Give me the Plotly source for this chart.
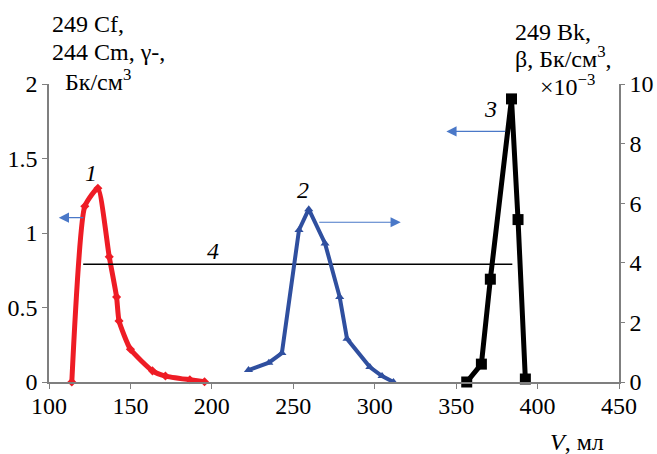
import plotly.graph_objects as go

# ---- data ----
v1 = [114, 122, 130, 137, 141.5, 143, 150, 163.5, 171.5, 186.5, 195.5]
a1 = [0, 1.18, 1.30, 0.84, 0.57, 0.41, 0.22, 0.075, 0.04, 0.015, 0.002]

v2 = [222.5, 235, 243, 253.5, 259.5, 269.5, 278.5, 283, 297, 304.5, 311.5]
a2 = [0.4, 0.65, 0.97, 5.1, 5.8, 4.65, 2.85, 1.45, 0.5, 0.2, 0]

v3 = [356.5, 365.5, 371, 384, 388, 392.5]
a3 = [0, 0.12, 0.69, 1.90, 1.09, 0.02]

v4 = [121, 384.5]
a4 = [0.79, 0.79]

x_ticks = [100, 150, 200, 250, 300, 350, 400, 450]
y_left_ticks = [0, 0.5, 1, 1.5, 2]
y_right_ticks = [0, 2, 4, 6, 8, 10]

W, H = 657, 454
L, R, T, B = 49, 38, 84, 72
PW, PH = W - L - R, H - T - B
FONT = "Liberation Serif, DejaVu Serif, serif"
FS = 24
AXC = "#7f7f7f"
ARROWC = "#4a78c8"

def px(xp):
    return (xp - L) / PW

def py(yp):
    return (H - B - yp) / PH

fig = go.Figure()
fig.add_trace(go.Scatter(x=v1, y=a1, mode="lines+markers", line=dict(color="#ee1c25", width=5, shape="spline", smoothing=0.5),
                         marker=dict(symbol="diamond", size=7, color="#ee1c25"), cliponaxis=False, showlegend=False))
fig.add_trace(go.Scatter(x=v2, y=a2, mode="lines+markers", yaxis="y2", line=dict(color="#2f4f9f", width=4),
                         marker=dict(symbol="triangle-up", size=8, color="#2f4f9f"), cliponaxis=False, showlegend=False))
fig.add_trace(go.Scatter(x=v3, y=a3, mode="lines+markers", line=dict(color="black", width=5),
                         marker=dict(symbol="square", size=11, color="black"), cliponaxis=False, showlegend=False))
fig.add_trace(go.Scatter(x=v4, y=a4, mode="lines", line=dict(color="black", width=1.6), showlegend=False))

ann = []
# curve labels
for txt, x, y in [("1", 126, 1.40), ("2", 256, 1.29), ("3", 371, 1.835), ("4", 201, 0.88)]:
    ann.append(dict(x=x, y=y, xref="x", yref="y", text="<i>" + txt + "</i>", showarrow=False,
                    font=dict(family=FONT, size=FS, color="black"), xanchor="center", yanchor="middle"))
# arrows
for (tx, hx, y) in [(122, 106, 1.103), (265, 316, 1.072), (381, 344, 1.682)]:
    ann.append(dict(x=hx, y=y, ax=tx, ay=y, xref="x", yref="y", axref="x", ayref="y", text="",
                    showarrow=True, arrowhead=2, arrowsize=1.7, arrowwidth=1.2, arrowcolor=ARROWC))
# axis titles
titles = [
    ("249 Cf,", 50, 24),
    ("244 Cm, γ-,", 50, 52),
    ("Бк/см<sup>3</sup>", 63, 80),
    ("249 Bk,", 513, 32),
    ("β, Бк/см<sup>3</sup>,", 513, 57),
    ("×10<sup>−3</sup>", 538, 85),
]
for txt, x, y in titles:
    ann.append(dict(x=px(x), y=py(y), xref="paper", yref="paper", text=txt, showarrow=False,
                    font=dict(family=FONT, size=FS, color="black"), xanchor="left", yanchor="middle"))
ann.append(dict(x=px(577), y=py(442), xref="paper", yref="paper", text="<i>V</i>, мл", showarrow=False,
                font=dict(family=FONT, size=FS, color="black"), xanchor="center", yanchor="middle"))

axis_common = dict(showgrid=False, zeroline=False, showline=True, linecolor=AXC, linewidth=1.5,
                   ticks="outside", tickcolor=AXC, tickwidth=1.2, automargin=False)

fig.update_layout(
    width=W, height=H, margin=dict(l=L, r=R, t=T, b=B, autoexpand=False),
    paper_bgcolor="white", plot_bgcolor="white",
    font=dict(family=FONT, size=FS, color="black"),
    xaxis=dict(range=[100, 450], tickvals=x_ticks, ticklen=5, ticklabelstandoff=-4, **axis_common),
    yaxis=dict(range=[0, 2], tickvals=y_left_ticks, ticklen=5, **axis_common),
    yaxis2=dict(range=[0, 10], tickvals=y_right_ticks, overlaying="y", side="right", ticklen=4, **axis_common),
    annotations=ann,
)

fig.write_html("out.html", config={"displayModeBar": False},
               post_script="document.body.style.margin='0px';document.body.style.overflow='hidden';")
